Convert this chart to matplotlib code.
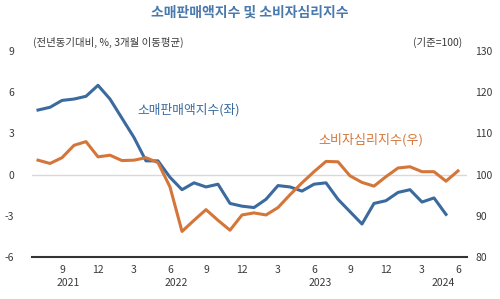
import matplotlib
matplotlib.use("Agg")
import matplotlib.pyplot as plt
import matplotlib.transforms as mtransforms

plt.rcParams['font.family'] = ['Noto Sans CJK KR', 'DejaVu Sans']

# Months from 2021-07 to 2024-06
month_labels = ['7','8','9','10','11','12',
                '1','2','3','4','5','6','7','8','9','10','11','12',
                '1','2','3','4','5','6','7','8','9','10','11','12',
                '1','2','3','4','5','6']
retail = [4.7, 4.9, 5.4, 5.5, 5.7, 6.5,
          5.5, 4.1, 2.7, 1.0, 1.0, -0.2, -1.1, -0.6, -0.9, -0.7, -2.1, -2.3,
          -2.4, -1.8, -0.8, -0.9, -1.2, -0.7, -0.6, -1.8, -2.7, -3.6, -2.1, -1.9,
          -1.3, -1.1, -2.0, -1.7, -2.9]
consumer = [103.5, 102.7, 104.1, 107.1, 108.0, 104.3,
            104.7, 103.4, 103.5, 104.1, 102.9, 97.0, 86.2, 88.9, 91.5, 88.9, 86.5, 90.2,
            90.7, 90.2, 92.0, 95.1, 98.0, 100.7, 103.2, 103.1, 99.7, 98.1, 97.2, 99.5,
            101.6, 101.9, 100.7, 100.7, 98.4, 100.9]
tick_pos = [2, 5, 8, 11, 14, 17, 20, 23, 26, 29, 32, 35]
years = ['2021', '2022', '2023', '2024']
year_pos = [2.5, 11.5, 23.5, 33.75]
left_ticks = [-6, -3, 0, 3, 6, 9]
right_ticks = [80, 90, 100, 110, 120, 130]

blue = '#3a6a9e'
orange = '#d4763a'
txt = '#3a3a3a'

fig = plt.figure(figsize=(5.0, 2.99), dpi=100)
ax = fig.add_axes([0.064, 0.1405, 0.870, 0.689])
ax2 = ax.twinx()

ax.plot(range(len(retail)), retail, color=blue, lw=2.2, zorder=3)
ax2.plot(range(len(consumer)), consumer, color=orange, lw=2.2, zorder=3)

ax.set_xlim(-0.5, 35.75)
ax.set_ylim(-6, 9)
ax2.set_ylim(80, 130)
ax.set_yticks(left_ticks)
ax.set_yticklabels([str(v) for v in left_ticks])
ax2.set_yticks(right_ticks)
ax2.set_yticklabels([str(v) for v in right_ticks])
ax.set_xticks(tick_pos)
ax.set_xticklabels([month_labels[i] for i in tick_pos])

ax.axhline(0, color='#d9d9d9', lw=1.0, zorder=1)

for a in (ax, ax2):
    for s in ['top', 'left', 'right', 'bottom']:
        a.spines[s].set_visible(False)
    a.tick_params(length=0, labelsize=7.5, colors=txt)
ax.spines['bottom'].set_visible(True)
ax.spines['bottom'].set_color('#333333')
ax.spines['bottom'].set_linewidth(1.5)
ax.tick_params(axis='x', pad=6)
ax.tick_params(axis='y', pad=13)
ax2.tick_params(axis='y', pad=6)

trans = mtransforms.blended_transform_factory(ax.transData, fig.transFigure)
for y, p in zip(years, year_pos):
    ax.text(p, 1 - 283 / 299, y, transform=trans, ha='center', va='center',
            fontsize=7.5, color=txt)

fig.text(0.5, 1 - 13 / 299, '소매판매액지수 및 소비자심리지수', ha='center', va='center',
         fontsize=10, fontweight='semibold', color='#4a79ad')
fig.text(33 / 500, 1 - 42 / 299, '(전년동기대비, %, 3개월 이동평균)', ha='left', va='center',
         fontsize=7.5, color=txt)
fig.text(462 / 500, 1 - 42 / 299, '(기준=100)', ha='right', va='center',
         fontsize=7.5, color=txt)

ax.text(137 / 500, 1 - 110 / 299, '소매판매액지수(좌)', transform=fig.transFigure,
        ha='left', va='center', fontsize=9.2, color=blue)
ax.text(318 / 500, 1 - 140 / 299, '소비자심리지수(우)', transform=fig.transFigure,
        ha='left', va='center', fontsize=9.4, color=orange)

fig.savefig('out.png', dpi=100)
